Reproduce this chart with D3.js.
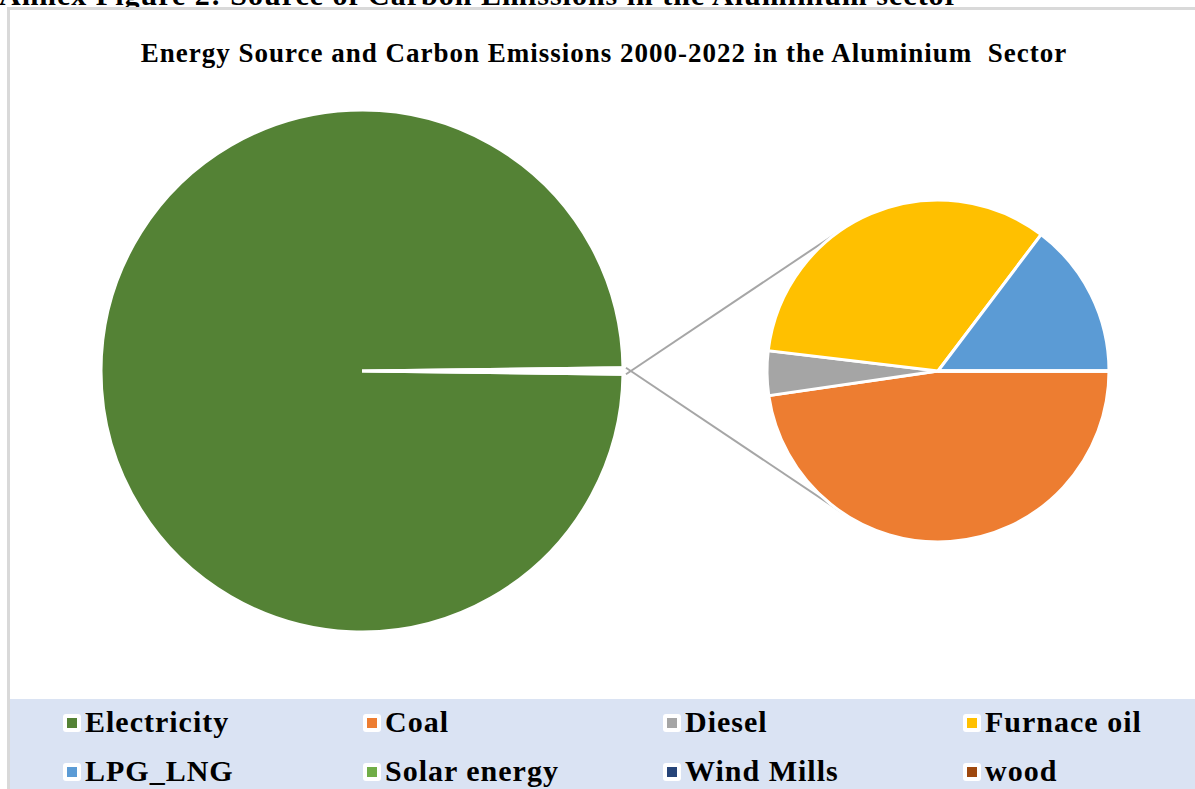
<!DOCTYPE html>
<html>
<head>
<meta charset="utf-8">
<script src="https://cdn.jsdelivr.net/npm/d3@7"></script>
<style>
  html, body { margin: 0; padding: 0; background: #fff; }
  svg { display: block; font-family: "Liberation Serif", "Times New Roman", serif; }
</style>
</head>
<body>
<script>
// primary pie: electricity vs the rest (rest is split out in the second pie)
const primaryLabels = ['Electricity', 'Other'];
const primaryValues = [99.6, 0.4];

// secondary pie, share of the "Other" slice (%)
const secondaryLabels = ['Coal', 'Diesel', 'Furnace oil', 'LPG_LNG', 'Solar energy', 'Wind Mills', 'wood'];
const secondaryValues = [47.7, 4.2, 33.4, 14.7, 0, 0, 0];

const legendLabels = ['Electricity', 'Coal', 'Diesel', 'Furnace oil', 'LPG_LNG', 'Solar energy', 'Wind Mills', 'wood'];
const colours = ['#548235', '#ED7D31', '#A5A5A5', '#FFC000', '#5B9BD5', '#70AD47', '#264478', '#9E480E'];

const outerW = 1195,
    outerH = 789;

const bigC = { x: 362, y: 371, r: 261 },
    smallC = { x: 938, y: 371, r: 171 };

const colour = d3.scaleOrdinal().domain(legendLabels).range(colours);

const svg = d3.select('body').append('svg')
    .attr('width', outerW)
    .attr('height', outerH);

// caption of the page, cut at the top edge
svg.append('text')
    .attr('x', -1)
    .attr('y', 5)
    .attr('font-size', 30)
    .attr('font-weight', 'bold')
    .attr('letter-spacing', 1)
    .attr('fill', '#000')
    .text('Annex Figure 2: Source of Carbon Emissions in the Aluminium sector');

svg.append('rect')
    .attr('x', 8.5)
    .attr('y', 8.5)
    .attr('width', outerW + 10)
    .attr('height', outerH + 10)
    .attr('fill', '#fff')
    .attr('stroke', '#d9d9d9')
    .attr('stroke-width', 3);

svg.append('text')
    .attr('x', 604)
    .attr('y', 62)
    .attr('text-anchor', 'middle')
    .attr('font-size', 27)
    .attr('font-weight', 'bold')
    .attr('letter-spacing', 1)
    .style('white-space', 'pre')
    .text('Energy Source and Carbon Emissions 2000-2022 in the Aluminium  Sector');

// big pie, the small "Other" slice sits at 3 o'clock
const otherAngle = 2 * Math.PI * primaryValues[1] / d3.sum(primaryValues);
const bigStart = Math.PI / 2 - otherAngle / 2;

const bigPie = d3.pie().sort(null)
    .startAngle(bigStart - 2 * Math.PI + otherAngle)
    .endAngle(bigStart + otherAngle);

const bigArc = d3.arc().innerRadius(0).outerRadius(bigC.r);

const gBig = svg.append('g')
    .attr('transform', `translate(${bigC.x}, ${bigC.y})`);

gBig.selectAll('path')
    .data(bigPie(primaryValues))
    .enter()
    .append('path')
    .attr('d', bigArc)
    .attr('fill', (d, i) => i === 0 ? colour(primaryLabels[0]) : '#fff')
    .attr('stroke', '#fff')
    .attr('stroke-width', 3);

// connector lines: from the ends of the "Other" slice, tangent to the small pie
[-1, 1].forEach(s => {
    const a0 = bigStart + (s < 0 ? 0 : otherAngle); // d3 angle
    const x0 = bigC.x + bigC.r * Math.sin(a0) + 3,
        y0 = bigC.y - bigC.r * Math.cos(a0);
    const dist = Math.hypot(smallC.x - x0, smallC.y - y0);
    const base = Math.atan2(y0 - smallC.y, x0 - smallC.x);
    const a1 = base + s * Math.acos(smallC.r / dist);
    const x1 = smallC.x + smallC.r * Math.cos(a1),
        y1 = smallC.y + smallC.r * Math.sin(a1);
    svg.append('line')
        .attr('x1', x0)
        .attr('y1', y0)
        .attr('x2', x1)
        .attr('y2', y1)
        .attr('stroke', '#a6a6a6')
        .attr('stroke-width', 2);
});

// small pie
const smallPie = d3.pie().sort(null)
    .startAngle(Math.PI / 2)
    .endAngle(Math.PI / 2 + 2 * Math.PI);

const smallArc = d3.arc().innerRadius(0).outerRadius(smallC.r);

const gSmall = svg.append('g')
    .attr('transform', `translate(${smallC.x}, ${smallC.y})`);

gSmall.selectAll('path')
    .data(smallPie(secondaryValues))
    .enter()
    .append('path')
    .attr('d', smallArc)
    .attr('fill', (d, i) => colour(secondaryLabels[i]))
    .attr('stroke', '#fff')
    .attr('stroke-width', 3);

// legend band
svg.append('rect')
    .attr('x', 10)
    .attr('y', 699)
    .attr('width', outerW - 10)
    .attr('height', outerH - 699)
    .attr('fill', '#dae3f3');

const cols = 4;
const lx = d3.scaleLinear().domain([0, 1]).range([63, 363]),
    ly = d3.scaleLinear().domain([0, 1]).range([723, 772]);

const items = svg.selectAll('.legend-item')
    .data(legendLabels)
    .enter()
    .append('g')
    .attr('class', 'legend-item')
    .attr('transform', (d, i) => `translate(${lx(i % cols)}, ${ly(Math.floor(i / cols))})`);

items.append('rect')
    .attr('x', 0)
    .attr('y', -9)
    .attr('width', 18)
    .attr('height', 18)
    .attr('rx', 3)
    .attr('fill', '#fff');

items.append('rect')
    .attr('x', 4)
    .attr('y', -5)
    .attr('width', 10)
    .attr('height', 10)
    .attr('fill', d => colour(d));

items.append('text')
    .attr('x', 22)
    .attr('y', 9)
    .attr('font-size', 30)
    .attr('font-weight', 'bold')
    .attr('letter-spacing', 1)
    .attr('fill', '#000')
    .text(d => d);
</script>
</body>
</html>
